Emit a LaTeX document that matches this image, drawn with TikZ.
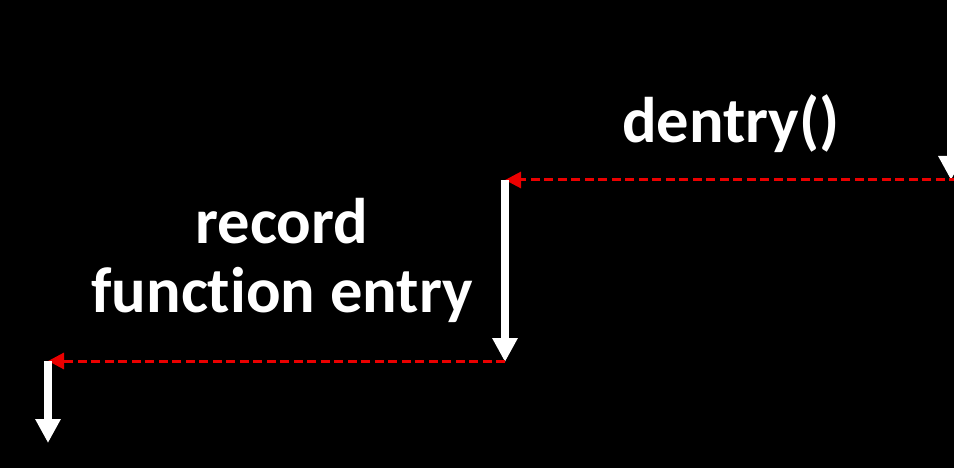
\documentclass[tikz,border=0pt]{standalone}
\usepackage{fontspec}
\setmainfont{Carlito}[Ligatures=NoCommon]
\usetikzlibrary{arrows.meta}
\definecolor{dashred}{RGB}{235,0,0}
\begin{document}
\begin{tikzpicture}[x=1pt,y=-1pt,
  flow/.style={draw=white,line width=8pt,-{Triangle[width=24pt,length=24pt]}},
  back/.style={draw=dashred,line width=3pt,dash pattern=on 9pt off 4.5pt,-{Triangle[width=16pt,length=16pt]}},
  lbl/.style={text=white,font=\bfseries\fontsize{64.5}{69}\selectfont,inner sep=0pt}]
\fill[black] (0,0) rectangle (954,468);
\useasboundingbox (0,0) rectangle (954,468);
\coordinate (a1s) at (951,-2);
\coordinate (a1e) at (951,180);
\coordinate (a2s) at (505,180);
\coordinate (a2e) at (505,362);
\coordinate (a3s) at (48,361);
\coordinate (a3e) at (48,443);
\coordinate (r1s) at (958,180);
\coordinate (r2s) at (505,361);
\node[lbl,anchor=base] (dentry) at (731,143) {dentry()};
\node[lbl,anchor=base,align=center] (record) at (282,312) {record\\function entry};
\draw[flow] (a1s) -- (a1e);
\draw[back] (r1s) -- (a2s);
\draw[flow] (a2s) -- (a2e);
\draw[back] (r2s) -- (a3s);
\draw[flow] (a3s) -- (a3e);
\end{tikzpicture}
\end{document}
